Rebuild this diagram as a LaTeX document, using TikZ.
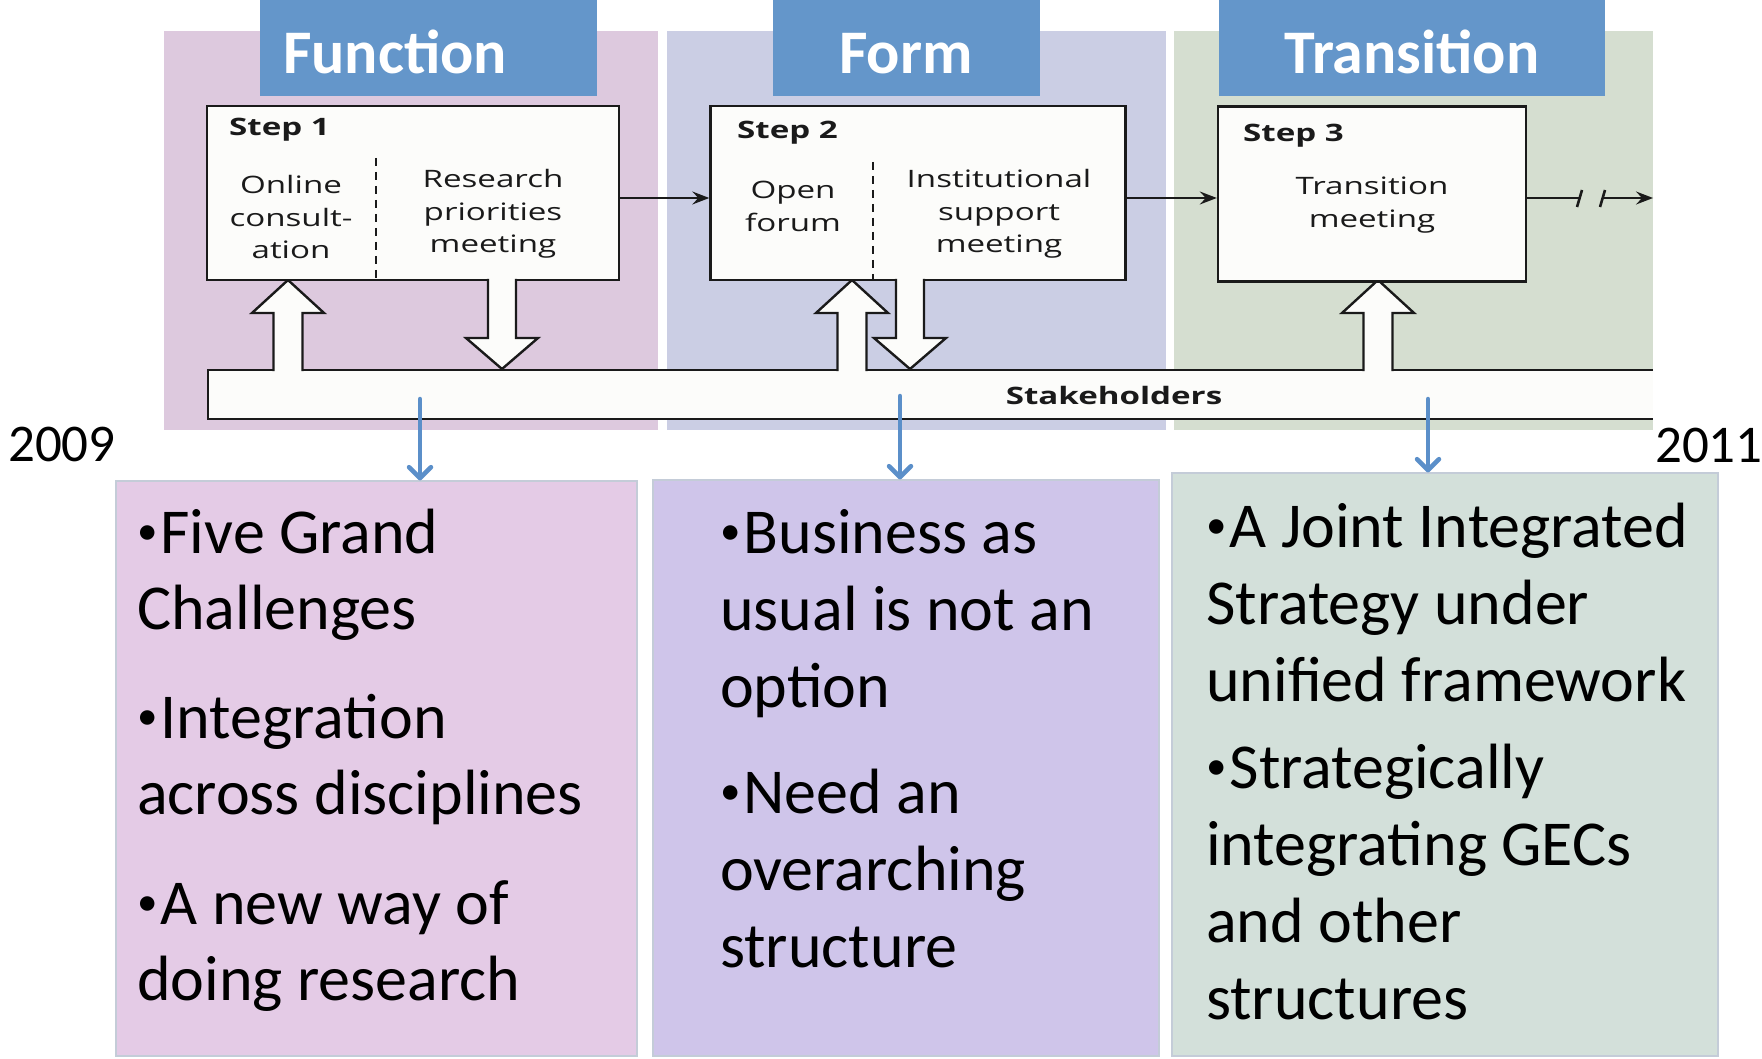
\documentclass[tikz,border=0pt]{standalone}
\usepackage{fontspec}
\setmainfont{Carlito}
\newfontfamily\diagfont[FakeStretch=1.38]{Open Sans}
\usetikzlibrary{arrows.meta}
\definecolor{panelpink}{HTML}{DDC9DE}
\definecolor{panelblue}{HTML}{CBCEE4}
\definecolor{panelgreen}{HTML}{D5DED0}
\definecolor{boxpink}{HTML}{E4CBE6}
\definecolor{boxpurple}{HTML}{CFC5EA}
\definecolor{boxgreen}{HTML}{D3E0DA}
\definecolor{titleblue}{HTML}{6496CA}
\definecolor{arrowblue}{HTML}{5B8FC9}
\definecolor{ink}{HTML}{1A1A1A}
\definecolor{paper}{HTML}{FCFCFA}
\definecolor{boxedge}{HTML}{C4CCD8}
\newcommand\mytab[2]{\begin{tabular}[t]{@{}#1@{}}#2\end{tabular}}
\newcommand\bul{\raisebox{8.5pt}{\fontsize{41}{41}\selectfont •}\kern3pt}
\newcommand\upblock[1]{%
  \fill[paper] (#1-14.5,373) -- (#1-14.5,313) -- (#1-36,313) -- (#1,280) -- (#1+36,313) -- (#1+14.5,313) -- (#1+14.5,373) -- cycle;
  \draw[blockline] (#1-14.5,371) -- (#1-14.5,313) -- (#1-36,313) -- (#1,280) -- (#1+36,313) -- (#1+14.5,313) -- (#1+14.5,371);}
\newcommand\downblock[1]{%
  \fill[paper] (#1-14,277) -- (#1-14,338) -- (#1-36,338) -- (#1,369) -- (#1+36,338) -- (#1+14,338) -- (#1+14,277) -- cycle;
  \draw[blockline] (#1-14,279) -- (#1-14,338) -- (#1-36,338) -- (#1,369) -- (#1+36,338) -- (#1+14,338) -- (#1+14,279);}
\begin{document}
\begin{tikzpicture}[x=1pt,y=-1pt,
  stepbox/.style={draw=ink, line width=2.4pt, fill=paper, inner sep=0},
  blockline/.style={draw=ink, line width=2.4pt, line join=miter},
  titlebox/.style={fill=titleblue, inner sep=0},
  titletext/.style={text=white, font=\fontsize{62}{70}\selectfont\bfseries, inner sep=0, anchor=base},
  steptext/.style={font=\diagfont\fontsize{24}{32.5}\selectfont, text=ink, inner sep=0, anchor=base},
  steplabel/.style={font=\diagfont\fontsize{24}{32.5}\selectfont\bfseries, text=ink, inner sep=0, anchor=base west},
  conn/.style={draw=ink, line width=1.8pt, -{Stealth[length=17pt,width=13pt,inset=6pt]}},
  plain/.style={draw=ink, line width=1.8pt},
  breakmark/.style={draw=ink, line width=2.6pt},
  bluearr/.style={draw=arrowblue, line width=4.5pt, line cap=round, -{Straight Barb[length=11pt,width=22pt,round]}},
  bbox/.style={draw=boxedge, line width=1.2pt, inner sep=0},
  bigtext/.style={inner sep=0, anchor=base west, text=black},
  yeartext/.style={inner sep=0, font=\fontsize{53}{60}\selectfont, text=black}
]
\useasboundingbox (0,0) rectangle (1762,1059);
\fill[white] (0,0) rectangle (1762,1059);

% background panels
\fill[panelpink] (164,31) rectangle (658,430);
\fill[panelblue] (667,31) rectangle (1166,430);
\fill[panelgreen] (1174,31) rectangle (1653,430);

% title boxes
\node[titlebox, minimum width=337, minimum height=96] (fbox) at (428.5,48) {};
\node[titlebox, minimum width=267, minimum height=96] (mbox) at (906.5,48) {};
\node[titlebox, minimum width=386, minimum height=96] (tbox) at (1412,48) {};
\node[titletext] (ftxt) at (395,74) {Function};
\node[titletext] (mtxt) at (906,74) {Form};
\node[titletext] (ttxt) at (1412,74) {Transition};

% stakeholders band
\draw[blockline, fill=paper] (1653,370) -- (208,370) -- (208,419) -- (1653,419);

% up block arrows
\upblock{288}
\upblock{852}
\upblock{1378}

% step boxes
\node[stepbox, minimum width=412, minimum height=174] (s1) at (413,193) {};
\node[stepbox, minimum width=415, minimum height=174] (s2) at (918,193) {};
\node[stepbox, minimum width=308, minimum height=175] (s3) at (1372,194) {};

% dashed dividers
\coordinate (d1) at (376,158);
\coordinate (d2) at (873,162);
\draw[ink, line width=2.4pt, dash pattern=on 8pt off 6pt] (d1) -- (d1 |- s1.south);
\draw[ink, line width=2.4pt, dash pattern=on 8pt off 6pt] (d2) -- (d2 |- s2.south);

% down block arrows
\downblock{502}
\downblock{910}

% connectors between steps
\coordinate (lvl) at (0,198);
\coordinate (brk1) at (1580,198);
\coordinate (brk2) at (1603,198);
\coordinate (endp) at (1653,198);
\draw[conn] (s1.east |- lvl) -- (s2.west |- lvl);
\draw[conn] (s2.east |- lvl) -- (s3.west |- lvl);
\draw[plain] (s3.east |- lvl) -- (brk1);
\draw[breakmark] (1577,207) -- (1582,190);
\draw[breakmark] (1600,207) -- (1605,190);
\draw[conn] (brk2) -- (endp);

% step texts
\node[steplabel] (l1) at (229,136) {Step 1};
\node[steplabel] (l2) at (737,139) {Step 2};
\node[steplabel] (l3) at (1243,142) {Step 3};
\node[steptext] (t11) at (291,194) {\mytab{c}{Online\\consult-\\ation}};
\node[steptext] (t12) at (493,188) {\mytab{c}{Research\\priorities\\meeting}};
\node[steptext] (t21) at (793,199) {\mytab{c}{Open\\forum}};
\node[steptext] (t22) at (999,188) {\mytab{c}{Institutional\\support\\meeting}};
\node[steptext] (t31) at (1372,195) {\mytab{c}{Transition\\meeting}};
\node[steptext, font=\diagfont\fontsize{24}{32.5}\selectfont\bfseries] (stk) at (1114,404) {Stakeholders};

% bottom boxes
\node[bbox, fill=boxpink, minimum width=521, minimum height=575] (b1) at (376.5,768.5) {};
\node[bbox, fill=boxpurple, minimum width=506, minimum height=576] (b2) at (906,768) {};
\node[bbox, fill=boxgreen, minimum width=546, minimum height=583] (b3) at (1445,764.5) {};

% blue arrows
\coordinate (a1) at (420,399);
\coordinate (a2) at (900,396);
\coordinate (a3) at (1428,399);
\draw[bluearr] (a1) -- (a1 |- b1.north);
\draw[bluearr] (a2) -- (a2 |- b2.north);
\draw[bluearr] (a3) -- (a3 |- b3.north);

% years
\node[yeartext, anchor=base west] (y1) at (8,461) {2009};
\node[yeartext, anchor=base west] (y2) at (1655,462) {2011};

% bullet texts
\node[bigtext, font=\fontsize{64}{76}\selectfont] (bt1) at (137,553)
  {\mytab{l}{\bul Five Grand\\Challenges\\[33pt]\bul Integration\\across disciplines\\[34pt]\bul A new way of\\doing research}};
\node[bigtext, font=\fontsize{64}{77}\selectfont] (bt2) at (720,553)
  {\mytab{l}{\bul Business as\\usual is not an\\option\\[29pt]\bul Need an\\overarching\\structure}};
\node[bigtext, font=\fontsize{64}{77}\selectfont] (bt3) at (1206,547)
  {\mytab{l}{\bul A Joint Integrated\\Strategy under\\unified framework\\[10pt]\bul Strategically\\integrating GECs\\and other\\structures}};
\end{tikzpicture}
\end{document}
